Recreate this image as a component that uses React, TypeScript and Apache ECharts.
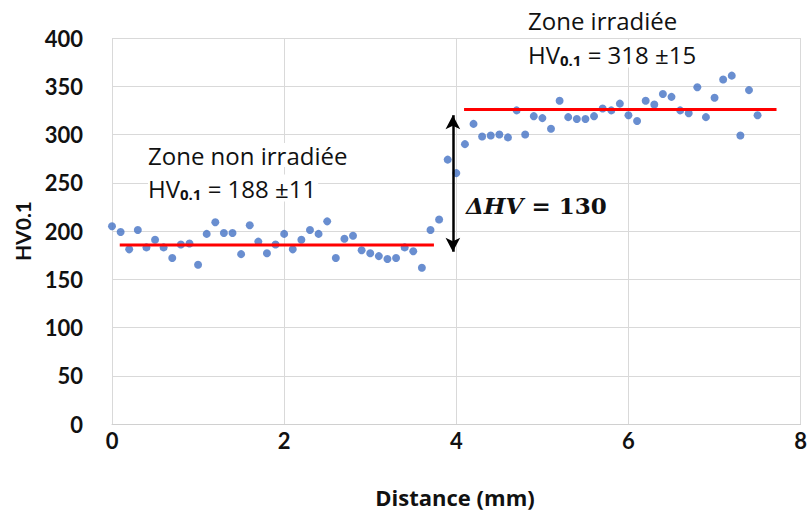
import React, { useEffect, useRef } from "react";
import * as echarts from "echarts";

const distance = [
  0.0, 0.1, 0.2, 0.3, 0.4, 0.5, 0.6, 0.7, 0.8, 0.9,
  1.0, 1.1, 1.2, 1.3, 1.4, 1.5, 1.6, 1.7, 1.8, 1.9,
  2.0, 2.1, 2.2, 2.3, 2.4, 2.5, 2.6, 2.7, 2.8, 2.9,
  3.0, 3.1, 3.2, 3.3, 3.4, 3.5, 3.6, 3.7, 3.8, 3.9,
  4.0, 4.1, 4.2, 4.3, 4.4, 4.5, 4.6, 4.7, 4.8, 4.9,
  5.0, 5.1, 5.2, 5.3, 5.4, 5.5, 5.6, 5.7, 5.8, 5.9,
  6.0, 6.1, 6.2, 6.3, 6.4, 6.5, 6.6, 6.7, 6.8, 6.9,
  7.0, 7.1, 7.2, 7.3, 7.4, 7.5,
];
const hardness = [
  205, 199, 181, 201, 183, 191, 183, 172, 186, 187,
  165, 197, 209, 198, 198, 176, 206, 189, 177, 186,
  197, 181, 191, 201, 197, 210, 172, 192, 195, 180,
  177, 174, 171, 172, 183, 179, 162, 201, 212, 274,
  260, 290, 311, 298, 299, 300, 297, 325, 300, 319,
  317, 306, 335, 318, 316, 316, 319, 327, 325, 332,
  320, 314, 335, 331, 342, 339, 325, 322, 349, 318,
  338, 357, 361, 299, 346, 320,
];
const meanNonIrr = [[0.09, 185.5], [3.74, 185.5]];
const meanIrr = [[4.09, 326], [7.72, 326]];
const arrowX = 3.96;
const arrowFrom = 178.5;
const arrowTo = 320;
const xTicks = [0, 2, 4, 6, 8];
const yTicks = [0, 50, 100, 150, 200, 250, 300, 350, 400];

const FONT = "Lato, 'Open Sans', sans-serif";
const ANN = "'Open Sans', Lato, sans-serif";
const MATH = "'DejaVu Serif', 'Liberation Serif', serif";

export default function App() {
  const ref = useRef<HTMLDivElement>(null);
  useEffect(() => {
    document.body.style.margin = "0";
    const chart = echarts.init(ref.current!, null, { renderer: "svg" });
    const points = distance.map((d, i) => [d, hardness[i]]);
    const sub = { fontFamily: ANN, fontSize: 15, fontWeight: "bold", fill: "#111", padding: [12, 0, 0, 0] };
    const annText = (x: number, y: number, text: string, rich?: boolean) => ({
      type: "text",
      x,
      y,
      z: 10,
      style: {
        text,
        fontFamily: ANN,
        fontSize: 24,
        fill: "#111",
        align: "left",
        verticalAlign: "middle",
        backgroundColor: "#ffffff",
        padding: [0, 2, 0, 0],
        ...(rich ? { rich: { s: sub } } : {}),
      },
    });
    chart.setOption({
      animation: false,
      backgroundColor: "#ffffff",
      grid: { left: 112, right: 8, top: 38, bottom: 87 },
      xAxis: {
        type: "value",
        min: xTicks[0],
        max: xTicks[xTicks.length - 1],
        interval: 2,
        axisLine: { show: true, lineStyle: { color: "#d0d0d0", width: 1 } },
        axisTick: { show: false },
        splitLine: { show: true, lineStyle: { color: "#d9d9d9", width: 1 } },
        axisLabel: { fontFamily: FONT, fontWeight: "bold", fontSize: 22, color: "#111", margin: 5 },
      },
      yAxis: {
        type: "value",
        min: yTicks[0],
        max: yTicks[yTicks.length - 1],
        interval: 50,
        axisLine: { show: false },
        axisTick: { show: false },
        splitLine: { show: true, lineStyle: { color: "#d9d9d9", width: 1 } },
        axisLabel: { fontFamily: FONT, fontWeight: "bold", fontSize: 22, color: "#111", margin: 29 },
      },
      series: [
        {
          type: "scatter",
          data: points,
          symbolSize: 8,
          itemStyle: { color: "#4472c4" },
          z: 3,
        },
        {
          type: "line",
          data: meanNonIrr,
          symbol: "none",
          lineStyle: { color: "#ff0000", width: 3 },
          z: 4,
        },
        {
          type: "line",
          data: meanIrr,
          symbol: "none",
          lineStyle: { color: "#ff0000", width: 3 },
          z: 4,
          markLine: {
            silent: true,
            symbol: ["arrow", "arrow"],
            symbolSize: [11, 14],
            label: { show: false },
            lineStyle: { color: "#000", width: 2.5, type: "solid" },
            data: [[{ coord: [arrowX, arrowFrom] }, { coord: [arrowX, arrowTo] }]],
          },
        },
      ],
      graphic: [
        {
          type: "text",
          x: 22,
          y: 231,
          rotation: Math.PI / 2,
          style: {
            text: "HV0.1",
            fontFamily: FONT,
            fontWeight: "bold",
            fontSize: 21,
            fill: "#111",
            align: "center",
            verticalAlign: "middle",
          },
        },
        {
          type: "text",
          x: 455,
          y: 497,
          style: {
            text: "Distance (mm)",
            fontFamily: ANN,
            fontWeight: "bold",
            fontSize: 22,
            fill: "#111",
            align: "center",
            verticalAlign: "middle",
          },
        },
        annText(148, 155, "Zone non irradiée"),
        annText(148, 188, "HV{s|0.1} = 188 ±11", true),
        annText(528, 20, "Zone irradiée"),
        annText(528, 54, "HV{s|0.1} = 318 ±15", true),
        {
          type: "text",
          x: 466,
          y: 205,
          z: 10,
          style: {
            text: "{i|ΔHV} = 130",
            fontFamily: MATH,
            fontSize: 23,
            fontWeight: "bold",
            fill: "#111",
            align: "left",
            verticalAlign: "middle",
            rich: {
              i: {
                fontFamily: MATH,
                fontSize: 23,
                fontStyle: "italic",
                fontWeight: "bold",
                fill: "#111",
              },
            },
          },
        },
      ],
    });
    return () => chart.dispose();
  }, []);
  return <div ref={ref} style={{ width: 810, height: 511 }} />;
}
